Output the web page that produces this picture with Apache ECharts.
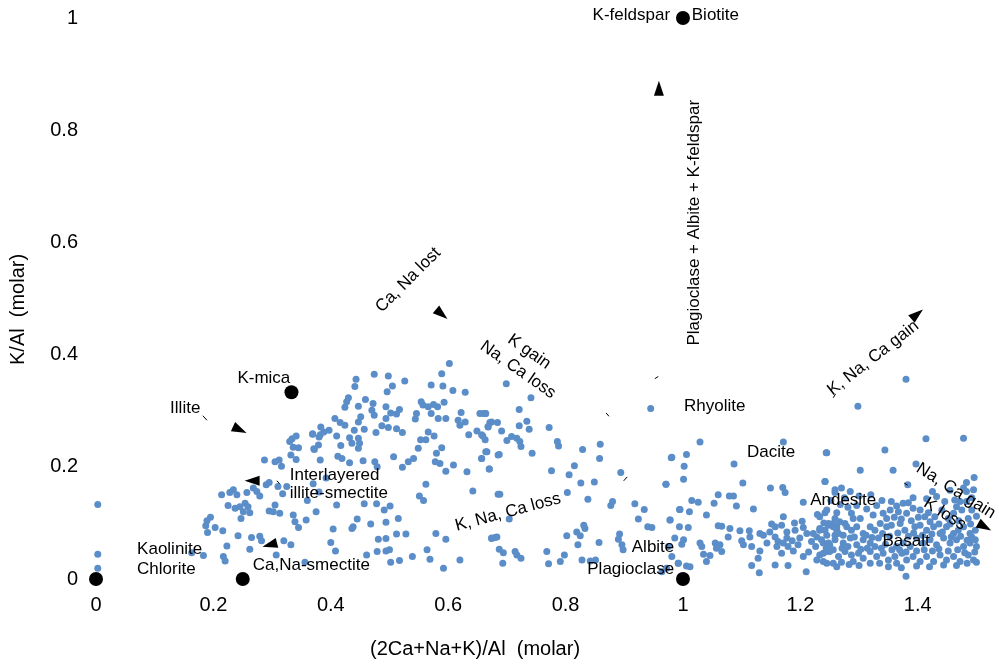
<!DOCTYPE html>
<html>
<head>
<meta charset="utf-8">
<script src="https://cdn.jsdelivr.net/npm/echarts@6/dist/echarts.min.js"></script>
<style>
  html, body { margin: 0; padding: 0; background: #fff; }
  #chart { width: 999px; height: 665px; }
</style>
</head>
<body>
<div id="chart"></div>
<script>
// Molar ratios: x = (2Ca+Na+K)/Al, y = K/Al

// Weathered / clay-rich samples
const weatheredSamples = [
  [0.003,0.133],[0.003,0.044],[0.003,0.019],
  [0.334,0.250],[0.341,0.255],[0.330,0.245],[0.336,0.235],[0.345,0.234],[0.332,0.221],[0.341,0.213],
  [0.369,0.259],[0.380,0.253],[0.372,0.231],[0.382,0.212],
  [0.287,0.212],[0.305,0.209],[0.312,0.212],[0.316,0.201],
  [0.295,0.172],[0.290,0.168],[0.310,0.165],[0.325,0.165],[0.318,0.152],
  [0.234,0.159],[0.228,0.154],[0.214,0.150],[0.240,0.150],[0.257,0.154],[0.268,0.162],[0.274,0.156],[0.279,0.148],
  [0.225,0.131],[0.237,0.126],[0.245,0.129],[0.254,0.135],[0.259,0.129],[0.251,0.120],[0.262,0.118],[0.247,0.108],
  [0.295,0.121],[0.302,0.120],[0.313,0.117],[0.305,0.132],[0.336,0.114],[0.339,0.102],[0.345,0.092],
  [0.189,0.104],[0.195,0.110],[0.187,0.095],[0.203,0.092],[0.190,0.083],[0.216,0.086],[0.242,0.077],
  [0.265,0.074],[0.279,0.076],[0.282,0.068],[0.223,0.059],[0.262,0.053],[0.320,0.068],[0.332,0.061],
  [0.307,0.043],[0.163,0.047],[0.183,0.042],[0.217,0.040],[0.220,0.032],[0.356,0.030],
  [0.370,0.170],[0.392,0.180],[0.380,0.155],[0.360,0.140],[0.375,0.120],[0.358,0.105]
];

// Samples between the clay field and the feldspar join
const transitionalSamples = [
  [0.602,0.384],[0.474,0.365],[0.498,0.362],[0.443,0.356],[0.441,0.343],[0.505,0.344],[0.496,0.334],
  [0.526,0.353],[0.571,0.346],[0.589,0.366],[0.591,0.344],[0.608,0.336],[0.629,0.333],
  [0.430,0.323],[0.427,0.316],[0.459,0.320],[0.447,0.308],[0.424,0.306],[0.472,0.313],[0.470,0.301],
  [0.474,0.292],[0.494,0.307],[0.502,0.296],[0.517,0.302],[0.512,0.294],[0.494,0.286],[0.487,0.273],
  [0.498,0.270],[0.512,0.268],[0.522,0.261],[0.554,0.316],[0.557,0.310],[0.566,0.307],[0.575,0.311],
  [0.582,0.307],[0.593,0.315],[0.546,0.295],[0.544,0.285],[0.571,0.295],[0.583,0.286],[0.596,0.286],
  [0.617,0.283],[0.629,0.280],[0.622,0.297],[0.654,0.295],[0.663,0.295],[0.674,0.280],[0.668,0.271],
  [0.649,0.264],[0.659,0.255],[0.635,0.257],[0.620,0.274],[0.407,0.286],[0.416,0.279],[0.424,0.274],
  [0.451,0.289],[0.447,0.280],[0.440,0.265],[0.457,0.267],[0.477,0.261],[0.397,0.265],[0.388,0.262],
  [0.383,0.271],[0.382,0.257],[0.369,0.258],[0.371,0.232],[0.379,0.239],[0.410,0.255],[0.417,0.238],
  [0.432,0.252],[0.436,0.242],[0.447,0.251],[0.449,0.242],[0.447,0.233],[0.412,0.219],[0.419,0.215],
  [0.432,0.207],[0.455,0.211],[0.475,0.209],[0.479,0.200],[0.507,0.218],[0.522,0.199],[0.532,0.209],
  [0.541,0.215],[0.549,0.233],[0.553,0.248],[0.562,0.248],[0.566,0.262],[0.576,0.255],[0.589,0.234],
  [0.580,0.224],[0.578,0.209],[0.586,0.206],[0.596,0.192],[0.609,0.203],[0.632,0.191],[0.657,0.215],
  [0.666,0.227],[0.670,0.196],[0.685,0.221],[0.685,0.151],[0.642,0.157],[0.562,0.169],[0.551,0.148],
  [0.558,0.140],[0.410,0.132],[0.457,0.134],[0.478,0.134],[0.491,0.123],[0.501,0.130],[0.515,0.108],
  [0.494,0.101],[0.468,0.098],[0.445,0.107],[0.438,0.093],[0.436,0.090],[0.404,0.089],[0.400,0.065],
  [0.408,0.050],[0.481,0.071],[0.494,0.072],[0.512,0.080],[0.528,0.080],[0.579,0.081],[0.596,0.071],
  [0.564,0.052],[0.539,0.040],[0.500,0.052],[0.494,0.050],[0.479,0.049],[0.461,0.043],[0.502,0.030],
  [0.517,0.033],[0.569,0.035],[0.620,0.034],[0.592,0.019],[0.674,0.072],[0.683,0.075],
  [0.699,0.348],[0.741,0.323],[0.660,0.295],[0.664,0.295],[0.721,0.302],[0.734,0.281],[0.738,0.267],
  [0.772,0.270],[0.671,0.279],[0.684,0.279],[0.668,0.272],[0.691,0.264],[0.721,0.273],[0.657,0.257],
  [0.663,0.248],[0.700,0.247],[0.708,0.254],[0.717,0.251],[0.722,0.245],[0.724,0.236],[0.786,0.245],
  [0.788,0.237],[0.743,0.224],[0.664,0.227],[0.687,0.222],[0.657,0.215],[0.670,0.196],[0.829,0.231],
  [0.859,0.240],[0.858,0.215],[0.815,0.202],[0.806,0.186],[0.776,0.193],[0.826,0.171],[0.849,0.173],
  [0.803,0.154],[0.838,0.142],[0.688,0.151],[0.704,0.107],[0.877,0.131],[0.880,0.138],[0.894,0.190],
  [0.918,0.134],[0.934,0.124],[0.924,0.107],[0.940,0.093],[0.947,0.092],[0.978,0.105],[0.980,0.216],
  [0.971,0.169],[0.995,0.124],[0.945,0.304],[0.674,0.073],[0.680,0.074],[0.687,0.053],[0.694,0.047],
  [0.714,0.049],[0.717,0.043],[0.724,0.037],[0.693,0.028],[0.768,0.049],[0.771,0.027],[0.791,0.031],
  [0.798,0.043],[0.802,0.077],[0.819,0.084],[0.825,0.077],[0.831,0.096],[0.833,0.090],[0.821,0.061],
  [0.857,0.065],[0.892,0.080],[0.890,0.071],[0.896,0.061],[0.898,0.052],[0.828,0.034],[0.842,0.032],
  [0.851,0.034],[0.975,0.058],[0.992,0.028],[0.981,0.040]
];

// Fresh volcanic rocks: rhyolite to basalt
const volcanicSamples = [
  [1.029,0.244],[1.171,0.244],[1.245,0.225],[0.981,0.217],[1.006,0.222],[1.002,0.201],[1.087,0.205],
  [1.001,0.178],[0.971,0.169],[1.102,0.171],[1.149,0.162],[1.170,0.163],[1.174,0.154],[1.242,0.174],
  [1.259,0.154],[1.015,0.140],[1.026,0.137],[1.060,0.150],[1.079,0.148],[1.086,0.148],[1.053,0.135],
  [1.091,0.130],[1.120,0.125],[1.205,0.137],[0.994,0.124],[1.011,0.120],[1.040,0.114],[1.229,0.115],
  [1.242,0.118],[1.171,0.111],[0.978,0.105],[0.994,0.093],[1.009,0.092],[1.060,0.095],[1.066,0.094],
  [1.080,0.090],[1.097,0.086],[1.113,0.086],[1.131,0.081],[1.151,0.098],[1.157,0.093],[1.168,0.096],
  [1.177,0.084],[1.191,0.087],[1.205,0.092],[1.211,0.081],[1.222,0.081],[1.233,0.087],[1.248,0.096],
  [1.256,0.099],[1.262,0.093],[1.245,0.078],[1.259,0.078],[0.986,0.073],[1.001,0.070],[0.998,0.062],
  [1.029,0.064],[1.032,0.058],[1.055,0.064],[1.057,0.055],[1.066,0.049],[1.046,0.042],[1.035,0.044],
  [1.077,0.075],[1.100,0.068],[1.114,0.075],[1.117,0.058],[1.137,0.078],[1.131,0.050],[1.148,0.084],
  [1.157,0.075],[1.162,0.067],[1.171,0.064],[1.177,0.073],[1.160,0.058],[1.168,0.046],[1.179,0.058],
  [1.196,0.061],[1.199,0.073],[1.219,0.067],[1.228,0.075],[1.239,0.064],[1.250,0.061],[1.245,0.049],
  [1.233,0.043],[1.228,0.034],[1.239,0.031],[1.256,0.028],[1.128,0.037],[1.117,0.024],[1.130,0.011],
  [1.157,0.025],[1.179,0.024],[1.210,0.013],[1.040,0.031],[0.992,0.028],[1.006,0.023],[1.012,0.022],
  [0.972,0.019],[0.964,0.013],[1.063,0.061],[1.103,0.061],[1.143,0.064],
  [1.380,0.356],[1.298,0.308],[1.414,0.250],[1.478,0.251],[1.344,0.230],[1.244,0.225],[1.302,0.194],
  [1.358,0.194],[1.397,0.205],[1.383,0.168],[1.483,0.172],[1.496,0.181],[1.242,0.174],
  [1.259,0.159],[1.270,0.162],[1.285,0.156],[1.355,0.138],[1.364,0.130],[1.375,0.135],[1.384,0.136],
  [1.404,0.123],[1.432,0.147],[1.446,0.138],[1.463,0.141],[1.472,0.138],[1.483,0.156],[1.495,0.159],
  [1.483,0.138],
  [1.245,0.123],[1.233,0.111],[1.248,0.099],[1.259,0.108],[1.267,0.102],[1.276,0.099],[1.287,0.117],
  [1.290,0.108],[1.302,0.108],[1.324,0.114],[1.341,0.117],[1.353,0.123],[1.367,0.120],[1.381,0.117],
  [1.392,0.126],[1.412,0.111],[1.421,0.102],[1.429,0.111],[1.441,0.123],[1.452,0.108],[1.461,0.117],
  [1.466,0.129],[1.475,0.123],[1.486,0.108],[1.492,0.123],
  [1.233,0.090],[1.242,0.087],[1.256,0.093],[1.265,0.081],[1.279,0.093],[1.287,0.087],[1.296,0.093],
  [1.307,0.081],[1.319,0.093],[1.327,0.087],[1.336,0.099],[1.347,0.093],[1.355,0.096],[1.370,0.099],
  [1.378,0.087],[1.395,0.093],[1.404,0.096],[1.415,0.087],[1.427,0.093],[1.438,0.081],[1.449,0.093],
  [1.461,0.081],[1.469,0.087],[1.478,0.093],[1.489,0.081],[1.498,0.087],[1.492,0.075],
  [1.236,0.070],[1.248,0.064],[1.259,0.070],[1.273,0.064],[1.285,0.073],[1.296,0.061],[1.307,0.070],
  [1.319,0.064],[1.327,0.058],[1.333,0.073],[1.364,0.058],[1.375,0.064],[1.387,0.058],[1.398,0.073],
  [1.409,0.064],[1.421,0.070],[1.432,0.061],[1.444,0.073],[1.455,0.064],[1.466,0.070],[1.478,0.058],
  [1.489,0.064],[1.498,0.070],
  [1.239,0.046],[1.250,0.049],[1.265,0.040],[1.276,0.049],[1.287,0.043],[1.299,0.046],[1.307,0.037],
  [1.319,0.049],[1.330,0.040],[1.341,0.046],[1.350,0.034],[1.361,0.040],[1.373,0.046],[1.381,0.034],
  [1.392,0.040],[1.404,0.031],[1.415,0.040],[1.427,0.031],[1.438,0.043],[1.449,0.034],[1.461,0.040],
  [1.472,0.031],[1.486,0.043],[1.495,0.034],[1.245,0.028],[1.262,0.022],[1.290,0.031],[1.319,0.028],
  [1.364,0.028],[1.380,0.005],
  [1.252,0.140],[1.268,0.133],[1.281,0.128],[1.296,0.131],[1.313,0.125],[1.330,0.131],[1.347,0.108],
  [1.360,0.110],[1.372,0.107],[1.389,0.104],[1.401,0.110],[1.418,0.118],[1.436,0.098],[1.455,0.098],
  [1.470,0.104],[1.490,0.098],[1.500,0.112],[1.240,0.100],[1.262,0.087],[1.273,0.078],[1.292,0.075],
  [1.312,0.078],[1.322,0.074],[1.340,0.081],[1.352,0.076],[1.366,0.082],[1.384,0.076],[1.393,0.082],
  [1.408,0.078],[1.424,0.080],[1.442,0.084],[1.457,0.075],[1.473,0.076],[1.484,0.069],[1.500,0.058],
  [1.244,0.055],[1.256,0.052],[1.271,0.055],[1.281,0.058],[1.303,0.053],[1.314,0.055],[1.338,0.055],
  [1.345,0.062],[1.356,0.052],[1.369,0.052],[1.380,0.048],[1.398,0.050],[1.411,0.052],[1.425,0.050],
  [1.436,0.054],[1.452,0.050],[1.468,0.052],[1.480,0.047],[1.497,0.048],[1.270,0.030],[1.283,0.026],
  [1.300,0.024],[1.335,0.028],[1.350,0.022],[1.372,0.020],[1.398,0.023],[1.420,0.022],[1.444,0.025],
  [1.466,0.024],[1.484,0.028],[1.500,0.030],[1.226,0.058],[1.214,0.048],[1.205,0.040],[1.188,0.050],
  [1.186,0.068],[1.203,0.103],[1.190,0.100],[1.262,0.118],[1.275,0.145],[1.300,0.148],[1.320,0.150],
  [1.339,0.140],[1.392,0.145],[1.415,0.143],[1.425,0.156],[1.455,0.158],[1.478,0.162],[1.492,0.145]
];

// Ideal mineral compositions
const mineralPoints = [[0,0],[0.25,0],[0.333,0.333],[1,1],[1,0]];

// Text annotations: [x, y, text, rotation in degrees, align]
const annotations = [
  [0.978, 1.004, 'K-feldspar', 0, 'right'],
  [1.015, 1.004, 'Biotite', 0, 'left'],
  [1.019, 0.635, 'Plagioclase + Albite + K-feldspar', 90, 'center'],
  [0.532, 0.533, 'Ca, Na lost', 45, 'center'],
  [0.738, 0.405, 'K gain', -35, 'center'],
  [0.719, 0.373, 'Na, Ca loss', -35, 'center'],
  [0.152, 0.305, 'Illite', 0, 'center'],
  [0.286, 0.358, 'K-mica', 0, 'center'],
  [0.330, 0.185, 'Interlayered', 0, 'left'],
  [0.330, 0.153, 'illite-smectite', 0, 'left'],
  [0.070, 0.053, 'Kaolinite', 0, 'left'],
  [0.070, 0.018, 'Chlorite', 0, 'left'],
  [0.267, 0.025, 'Ca,Na-smectite', 0, 'left'],
  [0.702, 0.119, 'K, Na, Ca loss', 15, 'center'],
  [1.054, 0.307, 'Rhyolite', 0, 'center'],
  [1.150, 0.225, 'Dacite', 0, 'center'],
  [1.273, 0.141, 'Andesite', 0, 'center'],
  [1.380, 0.068, 'Basalt', 0, 'center'],
  [0.949, 0.057, 'Albite', 0, 'center'],
  [0.911, 0.018, 'Plagioclase', 0, 'center'],
  [1.324, 0.394, 'K, Na, Ca gain', 38, 'center'],
  [1.465, 0.157, 'Na, Ca gain', -32, 'center'],
  [1.446, 0.116, 'K loss', -32, 'center']
];

// Arrow heads: [x, y, rotation of the triangle in degrees]
const arrowHeads = [
  [0.959, 0.875, 0],
  [0.589, 0.472, -130],
  [0.245, 0.266, -115],
  [0.266, 0.175, 90],
  [0.296, 0.061, 105],
  [1.399, 0.472, -50],
  [1.514, 0.093, -120]
];

// Short arrow-tail strokes: [x1, y1, x2, y2]
const arrowTails = [
  [0.182, 0.291, 0.189, 0.283],
  [0.308, 0.175, 0.313, 0.170],
  [0.952, 0.357, 0.958, 0.361],
  [0.869, 0.296, 0.874, 0.290],
  [0.899, 0.175, 0.905, 0.182],
  [1.256, 0.323, 1.260, 0.330],
  [1.377, 0.171, 1.383, 0.167]
];

const xTicks = [0, 0.2, 0.4, 0.6, 0.8, 1, 1.2, 1.4];
const yTicks = [0, 0.2, 0.4, 0.6, 0.8, 1];

const FONT = '"Liberation Sans", Arial, sans-serif';
const chart = echarts.init(document.getElementById('chart'), null, { renderer: 'canvas' });

const tickFormatter = ticks => v => {
  const hit = ticks.find(t => Math.abs(t - v) < 1e-6);
  return hit === undefined ? '' : String(hit);
};

chart.setOption({
  animation: false,
  backgroundColor: '#ffffff',
  grid: { left: 96, top: 18, width: 892.2, height: 561, containLabel: false },
  xAxis: {
    type: 'value', min: 0, max: 1.52, interval: 0.2,
    axisLine: { show: false }, axisTick: { show: false }, splitLine: { show: false },
    axisLabel: {
      color: '#000', fontFamily: FONT, fontSize: 20, margin: 16, showMaxLabel: false,
      formatter: tickFormatter(xTicks)
    }
  },
  yAxis: {
    type: 'value', min: 0, max: 1, interval: 0.2,
    axisLine: { show: false }, axisTick: { show: false }, splitLine: { show: false },
    axisLabel: {
      color: '#000', fontFamily: FONT, fontSize: 20, margin: 18,
      formatter: tickFormatter(yTicks)
    }
  },
  series: [
    {
      type: 'scatter', name: 'samples',
      data: weatheredSamples.concat(transitionalSamples, volcanicSamples),
      symbolSize: 7,
      itemStyle: { color: '#5b8ec8', opacity: 1 },
      z: 2
    },
    {
      type: 'scatter', name: 'minerals',
      data: mineralPoints,
      symbolSize: 14,
      itemStyle: { color: '#000', opacity: 1 },
      z: 4
    },
    {
      type: 'scatter', name: 'arrows',
      data: arrowHeads.map(a => ({ value: [a[0], a[1]], symbolRotate: a[2] })),
      symbol: 'triangle',
      symbolSize: [10, 15],
      itemStyle: { color: '#000', opacity: 1 },
      z: 4
    }
  ]
});

// Annotation texts and arrow tails, positioned through the grid's coordinate system
const toPx = (x, y) => chart.convertToPixel({ gridIndex: 0 }, [x, y]);

const textGraphics = annotations.map(a => {
  const p = toPx(a[0], a[1]);
  return {
    type: 'text', x: p[0], y: p[1], rotation: a[3] * Math.PI / 180, z: 10,
    style: {
      text: a[2], font: '17px ' + FONT, fill: '#000',
      align: a[4], verticalAlign: 'middle'
    }
  };
});

const tailGraphics = arrowTails.map(t => {
  const p1 = toPx(t[0], t[1]);
  const p2 = toPx(t[2], t[3]);
  return {
    type: 'line', z: 9,
    shape: { x1: p1[0], y1: p1[1], x2: p2[0], y2: p2[1] },
    style: { stroke: '#000', lineWidth: 1 }
  };
});

chart.setOption({
  graphic: [
    {
      type: 'text', left: 370, top: 639,
      style: { text: '(2Ca+Na+K)/Al  (molar)', font: '20px ' + FONT, fill: '#000' }
    },
    {
      type: 'text', x: 8, y: 365, rotation: Math.PI / 2,
      style: { text: 'K/Al  (molar)', font: '20px ' + FONT, fill: '#000' }
    }
  ].concat(textGraphics, tailGraphics)
});
</script>
</body>
</html>
